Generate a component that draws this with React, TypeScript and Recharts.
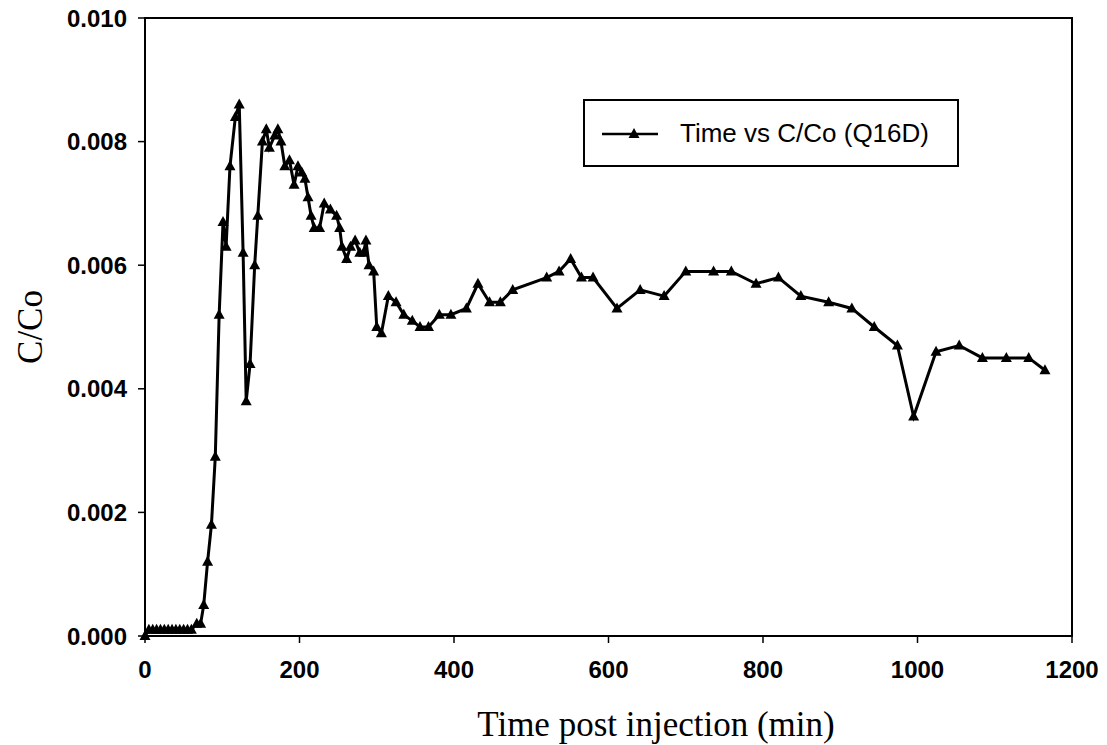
import { LineChart, Line, XAxis, YAxis, Label, ReferenceArea } from "recharts";

// time post injection (min)
const times = [
  0, 5, 10, 15, 20, 25, 30, 35, 40, 45, 50, 55, 60, 67, 72, 76, 81, 86, 91, 96,
  101, 105, 110, 117, 122, 127, 131, 136, 142, 146, 152, 157, 161, 168, 172, 176,
  181, 187, 193, 198, 203, 207, 211, 215, 219, 226, 232, 240, 248, 252, 255, 261,
  266, 272, 278, 283, 286, 290, 296, 300, 306, 315, 325, 335, 346, 356, 367, 381,
  396, 416, 431, 446, 460, 476, 520, 536, 551, 565, 580, 611, 641, 672, 700, 736,
  759, 791, 820, 849, 885, 915, 944, 974, 995, 1024, 1054, 1084, 1115, 1144, 1165,
];

// C/Co
const ratios = [
  0, 0.0001, 0.0001, 0.0001, 0.0001, 0.0001, 0.0001, 0.0001, 0.0001, 0.0001,
  0.0001, 0.0001, 0.0001, 0.0002, 0.0002, 0.0005, 0.0012, 0.0018, 0.0029, 0.0052,
  0.0067, 0.0063, 0.0076, 0.0084, 0.0086, 0.0062, 0.0038, 0.0044, 0.006, 0.0068,
  0.008, 0.0082, 0.0079, 0.0081, 0.0082, 0.008, 0.0076, 0.0077, 0.0073, 0.0076,
  0.0075, 0.0074, 0.0071, 0.0068, 0.0066, 0.0066, 0.007, 0.0069, 0.0068, 0.0066,
  0.0063, 0.0061, 0.0063, 0.0064, 0.0062, 0.0062, 0.0064, 0.006, 0.0059, 0.005,
  0.0049, 0.0055, 0.0054, 0.0052, 0.0051, 0.005, 0.005, 0.0052, 0.0052, 0.0053,
  0.0057, 0.0054, 0.0054, 0.0056, 0.0058, 0.0059, 0.0061, 0.0058, 0.0058, 0.0053,
  0.0056, 0.0055, 0.0059, 0.0059, 0.0059, 0.0057, 0.0058, 0.0055, 0.0054, 0.0053,
  0.005, 0.0047, 0.00355, 0.0046, 0.0047, 0.0045, 0.0045, 0.0045, 0.0043,
];

const xTicks = [0, 200, 400, 600, 800, 1000, 1200];
const yTicks = [0, 0.002, 0.004, 0.006, 0.008, 0.01];

const SERIES_NAME = "Time vs C/Co (Q16D)";

const data = times.map((t, i) => ({ time: t, ratio: ratios[i] }));

const SANS = "'Liberation Sans', Arial, sans-serif";
const SERIF = "'Liberation Serif', 'Times New Roman', serif";

const Triangle = (props: any) => {
  const { cx, cy } = props;
  if (cx == null || cy == null) return null;
  return (
    <path
      d={`M${cx},${cy - 6} L${cx + 5.5},${cy + 4} L${cx - 5.5},${cy + 4} Z`}
      fill="#000"
      stroke="none"
    />
  );
};

const LegendBox = () => (
  <div
    style={{
      position: "absolute",
      left: 583,
      top: 99,
      width: 376,
      height: 68,
      border: "2px solid #000",
      boxSizing: "border-box",
      background: "#fff",
      display: "flex",
      alignItems: "center",
      fontFamily: SANS,
      fontSize: 26,
      color: "#000",
      whiteSpace: "nowrap",
    }}
  >
    <svg width={95} height={20} style={{ flex: "none" }}>
      <line x1={17} y1={11} x2={73} y2={11} stroke="#000" strokeWidth={2.5} />
      <Triangle cx={49} cy={11} />
    </svg>
    <span>{SERIES_NAME}</span>
  </div>
);

export default function App() {
  return (
    <div style={{ position: "absolute", left: 0, top: 0, width: 1107, height: 745, background: "#fff" }}>
      <LineChart
        width={1107}
        height={745}
        data={data}
        margin={{ top: 18, right: 35, bottom: 59, left: 20 }}
      >
        <XAxis
          dataKey="time"
          type="number"
          domain={[0, 1200]}
          ticks={xTicks}
          interval={0}
          height={50}
          axisLine={{ stroke: "#000", strokeWidth: 2 }}
          tickLine={{ stroke: "#000", strokeWidth: 1.5 }}
          tickSize={7}
          tickMargin={18}
          tick={{ fill: "#000", fontSize: 24, fontWeight: "bold", fontFamily: SANS }}
        >
          <Label
            content={() => (
              <text
                x={656}
                y={736}
                textAnchor="middle"
                fill="#000"
                fontSize={35}
                fontFamily={SERIF}
              >
                Time post injection (min)
              </text>
            )}
          />
        </XAxis>
        <YAxis
          type="number"
          domain={[0, 0.01]}
          ticks={yTicks}
          interval={0}
          width={125}
          axisLine={{ stroke: "#000", strokeWidth: 2 }}
          tickLine={{ stroke: "#000", strokeWidth: 1.5 }}
          tickSize={7}
          tickMargin={11}
          tickFormatter={(v: number) => v.toFixed(3)}
          tick={{ fill: "#000", fontSize: 24, fontWeight: "bold", fontFamily: SANS }}
        >
          <Label
            content={() => (
              <text
                x={30}
                y={327}
                transform="rotate(-90, 30, 327)"
                textAnchor="middle"
                dominantBaseline="central"
                fill="#000"
                fontSize={35}
                fontFamily={SERIF}
              >
                C/Co
              </text>
            )}
          />
        </YAxis>
        <ReferenceArea
          x1={0}
          x2={1200}
          y1={0}
          y2={0.01}
          fill="none"
          stroke="#000"
          strokeWidth={2}
          ifOverflow="visible"
        />
        <Line
          dataKey="ratio"
          name={SERIES_NAME}
          type="linear"
          stroke="#000"
          strokeWidth={3}
          dot={<Triangle />}
          activeDot={false}
          isAnimationActive={false}
        />
      </LineChart>
      <LegendBox />
    </div>
  );
}
